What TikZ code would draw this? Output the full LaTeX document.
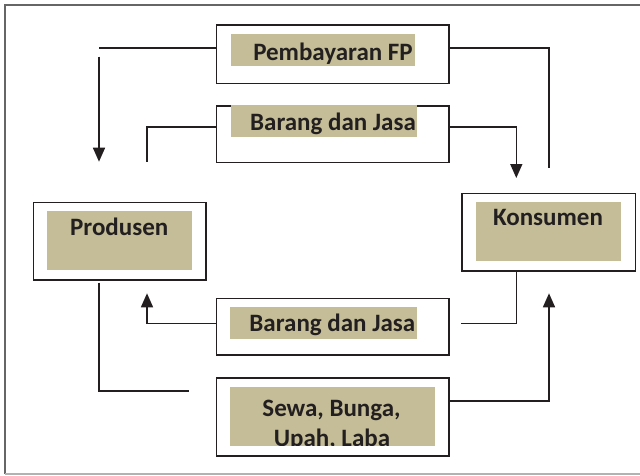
\documentclass[tikz,border=0pt]{standalone}
\usepackage{fontspec}
\setmainfont{Carlito}
\usetikzlibrary{arrows.meta}
\definecolor{tanfill}{HTML}{C4BD97}
\definecolor{ink}{HTML}{231F20}
\begin{document}
\begin{tikzpicture}[x=1pt,y=-1pt,
  frame/.style={draw=ink,line width=1.6pt,fill=white,inner sep=0pt,anchor=north west},
  bg/.style={fill=tanfill,inner sep=0pt,anchor=north west},
  lbl/.style={font=\fontsize{25}{30}\selectfont\bfseries,text=ink,inner sep=0pt,anchor=base},
  conn/.style={draw=ink,line width=1.6pt},
  arr/.style={-{Triangle[width=12pt,length=14pt]}}]
\useasboundingbox (0,0) rectangle (640,475);
% outer frame
\draw[line width=1.5pt,draw=black!60] (5,474) -- (5,5) -- (640,5);
\draw[line width=1.2pt,draw=black!30] (5,474) -- (640,474);
% boxes
\node[frame,minimum width=232.7pt,minimum height=58.4pt] (pfp) at (215.5,24.3) {};
\node[bg,minimum width=184pt,minimum height=31.7pt] (pfpbg) at (231,34) {};
\node[lbl] (pfpt) at (333,60) {Pembayaran FP};

\node[frame,minimum width=232.7pt,minimum height=56.4pt] (bj1) at (215.5,105.3) {};
\node[bg,minimum width=186pt,minimum height=32.4pt] (bj1bg) at (231,104.3) {};
\node[lbl] (bj1t) at (333,130) {Barang dan Jasa};

\node[frame,minimum width=172.6pt,minimum height=77.3pt] (prod) at (32.7,201.7) {};
\node[bg,minimum width=144.8pt,minimum height=59pt] (prodbg) at (47,211) {};
\node[lbl] (prodt) at (119.2,235.7) {Produsen};

\node[frame,minimum width=173.7pt,minimum height=77.3pt] (kons) at (461,192.7) {};
\node[bg,minimum width=144.4pt,minimum height=58.7pt] (konsbg) at (476,202) {};
\node[lbl] (konst) at (548,225.7) {Konsumen};

\node[frame,minimum width=232.7pt,minimum height=56.3pt] (bj2) at (215.5,297.7) {};
\node[bg,minimum width=187.2pt,minimum height=32.3pt] (bj2bg) at (229.8,306.7) {};
\node[lbl] (bj2t) at (332.3,331.7) {Barang dan Jasa};

\node[frame,minimum width=232.7pt,minimum height=77.7pt] (sewa) at (215.5,377.3) {};
\node[bg,minimum width=205.2pt,minimum height=59pt] (sewabg) at (229.8,386.7) {};
\begin{scope}
\clip (229.8,386.7) rectangle (435,445.7);
\node[lbl] (sewat1) at (331.5,416.7) {Sewa, Bunga,};
\node[lbl] (sewat2) at (332,446.7) {Upah, Laba};
\end{scope}
% connector points
\coordinate (a1) at (99,47.7);
\coordinate (a1s) at (99,56.7);
\coordinate (a1e) at (99,161.7);
\coordinate (a2) at (549,47.7);
\coordinate (a2e) at (549,168);
\coordinate (b1) at (147,126.7);
\coordinate (b1e) at (147,161.7);
\coordinate (b2) at (516.3,126.7);
\coordinate (b2e) at (516.3,178);
\coordinate (c1) at (516.3,323.3);
\coordinate (c1e) at (461,323.3);
\coordinate (c2) at (147,323.3);
\coordinate (c2e) at (147,293.3);
\coordinate (d1) at (99,282.7);
\coordinate (d2) at (99,390.7);
\coordinate (d2e) at (188.6,390.7);
\coordinate (e1) at (549,400.7);
\coordinate (e1e) at (549,293.3);
% connectors
\draw[conn] (pfp.west |- a1) -- (a1);
\draw[conn,arr] (a1s) -- (a1e);
\draw[conn] (pfp.east |- a2) -- (a2) -- (a2e);
\draw[conn] (bj1.west |- b1) -- (b1) -- (b1e);
\draw[conn,arr] (bj1.east |- b2) -- (b2) -- (b2e);
\draw[conn] (kons.south -| c1) -- (c1) -- (c1e);
\draw[conn,arr] (bj2.west |- c2) -- (c2) -- (c2e);
\draw[conn] (d1) -- (d2) -- (d2e);
\draw[conn,arr] (sewa.east |- e1) -- (e1) -- (e1e);
\end{tikzpicture}
\end{document}
